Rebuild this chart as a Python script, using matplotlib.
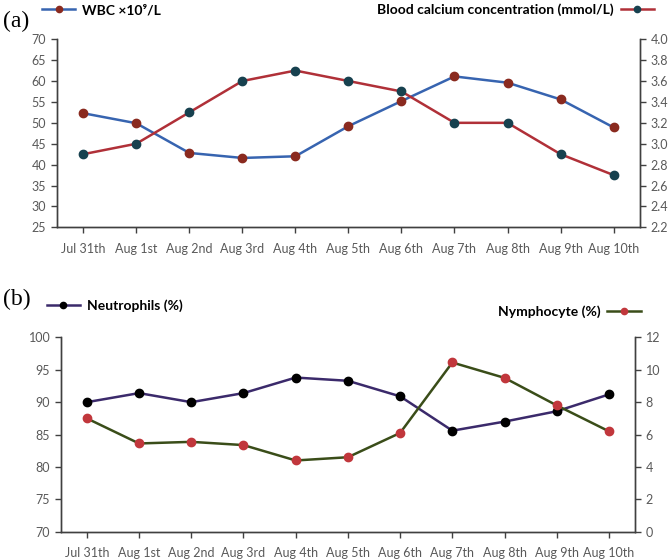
import matplotlib
matplotlib.use("Agg")
import matplotlib.pyplot as plt
from matplotlib.lines import Line2D

days = ["Jul 31th", "Aug 1st", "Aug 2nd", "Aug 3rd", "Aug 4th", "Aug 5th",
        "Aug 6th", "Aug 7th", "Aug 8th", "Aug 9th", "Aug 10th"]

# panel (a)
wbc = [52.3, 49.9, 42.8, 41.6, 42.0, 49.2, 55.2, 61.1, 59.6, 55.6, 48.9]
calcium = [2.9, 3.0, 3.3, 3.6, 3.7, 3.6, 3.5, 3.2, 3.2, 2.9, 2.7]

# panel (b)
neutrophils = [90.0, 91.4, 90.0, 91.4, 93.8, 93.3, 90.9, 85.6, 87.0, 88.6, 91.2]
nymphocyte = [7.0, 5.45, 5.55, 5.35, 4.4, 4.6, 6.1, 10.45, 9.5, 7.8, 6.2]

plt.rcParams["font.family"] = ["Lato", "DejaVu Sans"]
TICK_C = "#595959"
AX_C = "#404040"

WBC_LINE, WBC_MK = "#3764b0", "#8a2a1f"
CA_LINE, CA_MK = "#b03038", "#17414f"
NE_LINE, NE_MK = "#3b2a6b", "#000000"
NY_LINE, NY_MK = "#3a4d19", "#c1373c"

fig = plt.figure(figsize=(6.71, 5.6), dpi=100)


def style(ax, ax2):
    ax.set_xlim(-0.5, len(days) - 0.5)
    ax.set_xticks(range(len(days)))
    ax.set_xticklabels(days)
    for a in (ax, ax2):
        a.spines["top"].set_visible(False)
        for s in ("left", "right", "bottom"):
            a.spines[s].set_color(AX_C)
            a.spines[s].set_linewidth(1.0)
        a.tick_params(colors=AX_C, labelcolor=TICK_C, labelsize=9,
                      length=4, width=1.0, direction="out")
    ax.tick_params(axis="x", pad=7)


def series(ax, vals, lc, mc):
    x = range(len(vals))
    ax.plot(x, vals, color=lc, lw=1.8, zorder=2)
    ax.plot(x, vals, ls="none", marker="o", ms=6, color=mc, zorder=3)


# ---- panel (a)
ax1 = fig.add_axes([0.0845, 0.594, 0.8695, 0.336])
ax1b = ax1.twinx()
series(ax1, wbc, WBC_LINE, WBC_MK)
series(ax1b, calcium, CA_LINE, CA_MK)
ax1.set_ylim(25, 70)
ax1.set_yticks(range(25, 71, 5))
ax1b.set_ylim(2.2, 4.0)
ax1b.set_yticks([2.2 + 0.2 * i for i in range(10)])
ax1b.set_yticklabels([f"{2.2 + 0.2 * i:.1f}" for i in range(10)])
style(ax1, ax1b)

# ---- panel (b)
ax2 = fig.add_axes([0.0905, 0.0505, 0.856, 0.347])
ax2b = ax2.twinx()
series(ax2, neutrophils, NE_LINE, NE_MK)
series(ax2b, nymphocyte, NY_LINE, NY_MK)
ax2.set_ylim(70, 100)
ax2.set_yticks(range(70, 101, 5))
ax2b.set_ylim(0, 12)
ax2b.set_yticks(range(0, 13, 2))
style(ax2, ax2b)


def handle(lc, mc):
    return Line2D([], [], color=lc, lw=1.8, marker="o", ms=4.5, mfc=mc, mec=mc)


legkw = dict(frameon=False, handlelength=2.4, handletextpad=0.5, borderpad=0,
             prop={"weight": "bold", "size": 10})
fig.legend([handle(WBC_LINE, WBC_MK)], ["WBC ×10⁹/L"], loc="center left",
           bbox_to_anchor=(0.052, 0.982), **legkw)
fig.legend([handle(CA_LINE, CA_MK)], ["Blood calcium concentration (mmol/L)"],
           loc="center right", markerfirst=False,
           bbox_to_anchor=(0.985, 0.982), **legkw)
fig.legend([handle(NE_LINE, NE_MK)], ["Neutrophils (%)"], loc="center left",
           bbox_to_anchor=(0.059, 0.455), **legkw)
fig.legend([handle(NY_LINE, NY_MK)], ["Nymphocyte (%)"], loc="center right",
           markerfirst=False, bbox_to_anchor=(0.965, 0.444), **legkw)

fig.text(0.005, 0.962, "(a)", family="Liberation Serif", fontsize=17, va="center")
fig.text(0.005, 0.465, "(b)", family="Liberation Serif", fontsize=17, va="center")

fig.savefig("out.png", dpi=100)
